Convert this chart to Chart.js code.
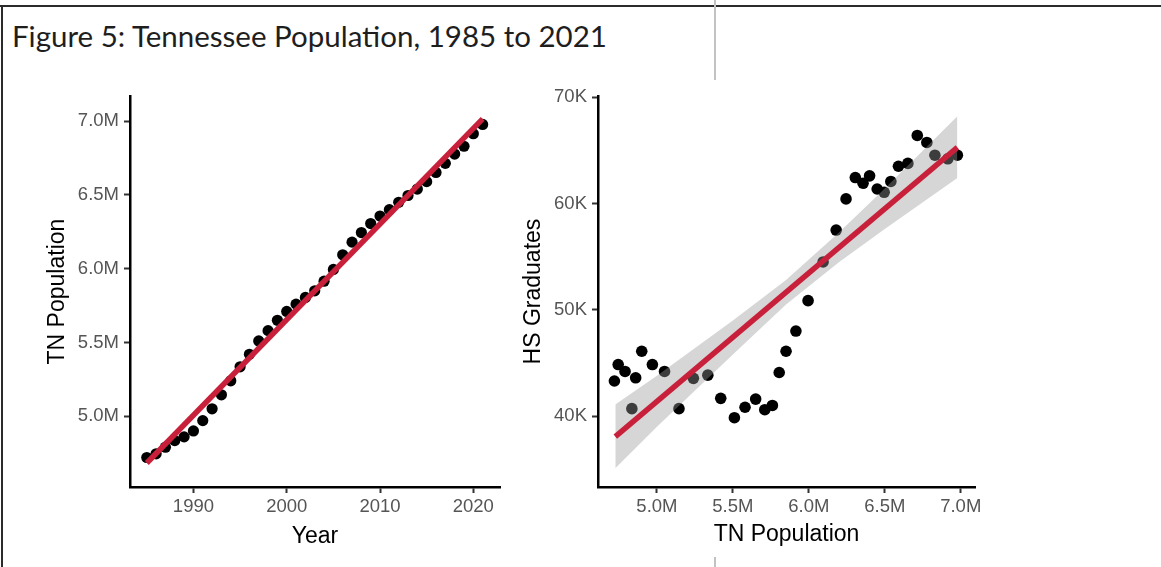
<!DOCTYPE html>
<html>
<head>
<meta charset="utf-8">
<script src="https://cdn.jsdelivr.net/npm/chart.js@4"></script>
<style>
  html, body { margin: 0; padding: 0; background: #fff; }
  body { width: 1161px; height: 567px; position: relative; overflow: hidden; }
  #frameTop { position: absolute; left: 0; top: 5px; width: 1161px; height: 2px; background: #2b2b2b; }
  #frameLeft { position: absolute; left: 1px; top: 5px; width: 2px; height: 562px; background: #2b2b2b; }
  .divider { position: absolute; left: 714px; width: 2px; background: #c2c2c2; }
  #title { position: absolute; left: 12px; top: 18px; font: 29.5px Lato, sans-serif; color: #1e1e1e; white-space: nowrap; }
  #popChart { position: absolute; left: 0; top: 80px; }
  #gradChart { position: absolute; left: 520px; top: 80px; }
</style>
</head>
<body>
<div id="frameTop"></div>
<div id="frameLeft"></div>
<div class="divider" style="top:0;height:80px"></div>
<div class="divider" style="top:557px;height:10px"></div>
<div id="title">Figure 5: Tennessee Population, 1985 to 2021</div>
<canvas id="popChart" width="520" height="480"></canvas>
<canvas id="gradChart" width="480" height="480"></canvas>
<script>
// values
const years = [1985, 1986, 1987, 1988, 1989, 1990, 1991, 1992, 1993, 1994,
  1995, 1996, 1997, 1998, 1999, 2000, 2001, 2002, 2003, 2004,
  2005, 2006, 2007, 2008, 2009, 2010, 2011, 2012, 2013, 2014,
  2015, 2016, 2017, 2018, 2019, 2020, 2021];
// TN population, millions
const tnPopulation = [4.72, 4.745, 4.79, 4.835, 4.86, 4.90, 4.97, 5.05, 5.145, 5.24,
  5.335, 5.42, 5.51, 5.58, 5.65, 5.71, 5.76, 5.805, 5.85, 5.915,
  5.995, 6.094, 6.18, 6.245, 6.306, 6.357, 6.40, 6.45, 6.496, 6.54,
  6.59, 6.652, 6.714, 6.777, 6.83, 6.915, 6.978];
// HS graduates, thousands
const hsGraduates = [43.3, 44.85, 44.2, 40.7, 43.6, 46.1, 44.85, 44.2, 40.7, 43.55,
  43.85, 41.67, 39.85, 40.83, 41.6, 40.6, 41.0, 44.1, 46.1, 48.0,
  50.86, 54.5, 57.5, 60.43, 62.44, 61.9, 62.6, 61.36, 61.05, 62.07,
  63.5, 63.77, 66.4, 65.74, 64.54, 64.2, 64.54];

const yearTicks = [1990, 2000, 2010, 2020];
const popTicks = [5.0, 5.5, 6.0, 6.5, 7.0];
const gradTicks = [40, 50, 60, 70];

// fitted lines (end points)
const popFitYears = [1985, 2021];
const popFitValues = [4.683, 7.016];
const gradFitPop = [4.726, 6.978];
const gradFitValues = [38.06, 65.28];

// confidence band edges
const bandPop = [4.726, 5.0, 5.5, 5.85, 6.2, 6.5, 6.978];
const bandUpper = [41.1, 43.8, 49.0, 52.8, 57.3, 61.4, 68.2];
const bandLower = [35.1, 39.0, 45.8, 50.5, 54.5, 57.6, 62.4];

const FONT = "'Liberation Sans', Arial, sans-serif";
const RED = '#c8203b';
const TICK_GREY = '#555';

Chart.defaults.font.family = FONT;

const pairs = (xs, ys) => xs.map((x, i) => ({ x: x, y: ys[i] }));

function makeAxis(opts) {
  return {
    type: 'linear',
    min: opts.min,
    max: opts.max,
    afterBuildTicks: s => { s.ticks = opts.ticks.map(v => ({ value: v })); },
    afterFit: s => {
      if (opts.width) s.width = opts.width;
      if (opts.height) s.height = opts.height;
    },
    ticks: {
      callback: opts.label,
      color: TICK_GREY,
      font: { size: 18.5 },
      padding: opts.tickPad
    },
    grid: {
      drawOnChartArea: false,
      drawTicks: true,
      tickLength: 6,
      tickWidth: 2,
      tickColor: '#333'
    },
    border: { display: true, color: '#000', width: 2.5 },
    title: {
      display: true,
      text: opts.title,
      color: '#000',
      font: { size: 23 },
      padding: opts.titlePad
    }
  };
}

const common = {
  responsive: false,
  animation: false,
  events: [],
  plugins: { legend: { display: false }, tooltip: { enabled: false } }
};

new Chart(document.getElementById('popChart').getContext('2d'), {
  type: 'scatter',
  data: {
    datasets: [
      {
        label: 'TN Population',
        data: pairs(years, tnPopulation),
        backgroundColor: '#000',
        borderWidth: 0,
        pointRadius: 5.6,
        order: 2
      },
      {
        type: 'line',
        label: 'Fit',
        data: pairs(popFitYears, popFitValues),
        borderColor: RED,
        borderWidth: 5.5,
        pointRadius: 0,
        fill: false,
        order: 1
      }
    ]
  },
  options: {
    ...common,
    layout: { padding: { top: 12, right: 20, left: 0, bottom: 0 } },
    scales: {
      x: makeAxis({ min: 1983.2, max: 2022.86, ticks: yearTicks, label: v => String(v),
        height: 73, tickPad: 3, title: 'Year', titlePad: { top: 0, bottom: 10 } }),
      y: makeAxis({ min: 4.52, max: 7.17, ticks: popTicks, label: v => v.toFixed(1) + 'M',
        width: 130, tickPad: 5, title: 'TN Population', titlePad: { top: 44, bottom: 0 } })
    }
  }
});

new Chart(document.getElementById('gradChart').getContext('2d'), {
  type: 'scatter',
  data: {
    datasets: [
      {
        label: 'HS Graduates',
        data: pairs(tnPopulation, hsGraduates),
        backgroundColor: '#000',
        borderWidth: 0,
        pointRadius: 5.8,
        order: 3
      },
      {
        type: 'line',
        label: 'Upper',
        data: pairs(bandPop, bandUpper),
        borderWidth: 0,
        borderColor: 'rgba(0,0,0,0)',
        pointRadius: 0,
        backgroundColor: 'rgba(153,153,153,0.4)',
        fill: '+1',
        order: 2
      },
      {
        type: 'line',
        label: 'Lower',
        data: pairs(bandPop, bandLower),
        borderWidth: 0,
        borderColor: 'rgba(0,0,0,0)',
        pointRadius: 0,
        fill: false,
        order: 2
      },
      {
        type: 'line',
        label: 'Fit',
        data: pairs(gradFitPop, gradFitValues),
        borderColor: RED,
        borderWidth: 5.5,
        pointRadius: 0,
        fill: false,
        order: 1
      }
    ]
  },
  options: {
    ...common,
    layout: { padding: { top: 11, right: 25, left: 0, bottom: 0 } },
    scales: {
      x: makeAxis({ min: 4.612, max: 7.094, ticks: popTicks, label: v => v.toFixed(1) + 'M',
        height: 73, tickPad: 3, title: 'TN Population', titlePad: { top: 0, bottom: 12 } }),
      y: makeAxis({ min: 33.33, max: 70.1, ticks: gradTicks, label: v => v + 'K',
        width: 78, tickPad: 5, title: 'HS Graduates', titlePad: { top: 0, bottom: 0 } })
    }
  }
});
</script>
</body>
</html>
